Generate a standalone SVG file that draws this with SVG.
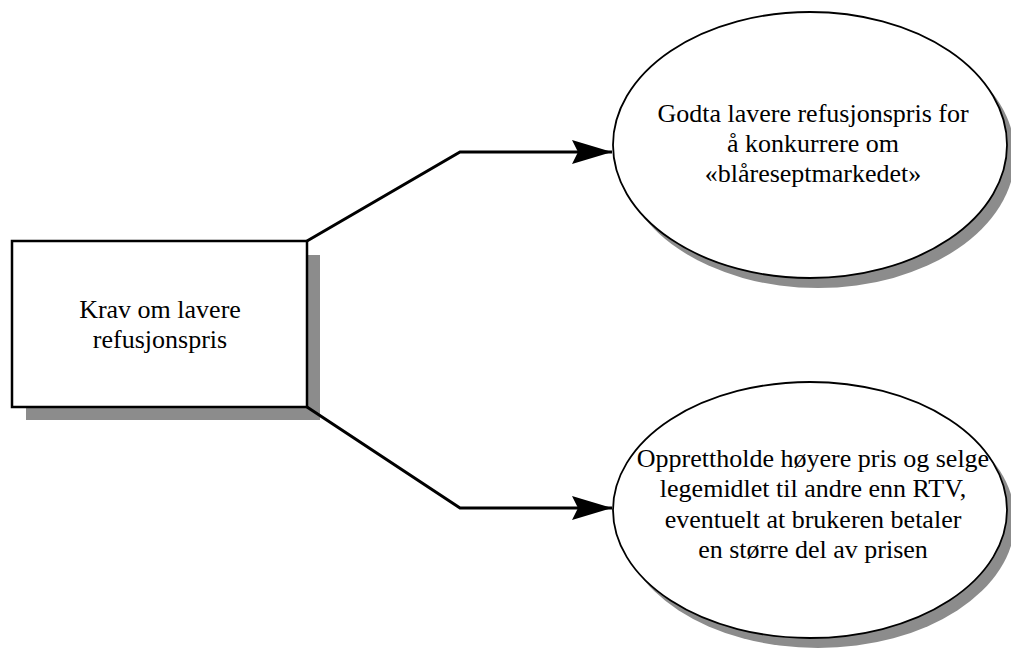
<svg xmlns="http://www.w3.org/2000/svg" width="1011" height="649" viewBox="0 0 1011 649">
  <style>
    .shadow { fill: #8c8c8c; stroke: none; }
    .shape { fill: #ffffff; stroke: #000000; }
    .label { font-family: "Liberation Serif", "Times New Roman", serif; font-size: 26px; fill: #000000; text-anchor: middle; }
    .link { fill: none; stroke: #000000; stroke-width: 3; stroke-linejoin: miter; }
  </style>
  <defs>
    <marker id="arrow" markerUnits="userSpaceOnUse" markerWidth="40" markerHeight="24" refX="40" refY="12" orient="auto">
      <path d="M0,0 L40,12 L0,24 L6,12 Z" fill="#000000"/>
    </marker>
  </defs>
  <rect x="0" y="0" width="1011" height="649" fill="#ffffff"/>

  <g id="node-krav">
    <rect class="shadow" x="26" y="255" width="294" height="165"/>
    <rect class="shape" x="12" y="241" width="295" height="166" stroke-width="2.5"/>
    <text class="label" x="160" y="318">Krav om lavere</text>
    <text class="label" x="160" y="348">refusjonspris</text>
  </g>

  <g id="node-godta">
    <ellipse class="shadow" cx="818" cy="155" rx="197" ry="133"/>
    <ellipse class="shape" cx="810" cy="145" rx="197" ry="133" stroke-width="1.8"/>
    <text class="label" x="813" y="122">Godta lavere refusjonspris for</text>
    <text class="label" x="813" y="152">å konkurrere om</text>
    <text class="label" x="813" y="182">«blåreseptmarkedet»</text>
  </g>

  <g id="node-opprettholde">
    <ellipse class="shadow" cx="818" cy="520" rx="197" ry="128"/>
    <ellipse class="shape" cx="810" cy="510" rx="197" ry="128" stroke-width="1.8"/>
    <text class="label" x="813" y="467">Opprettholde høyere pris og selge</text>
    <text class="label" x="813" y="497">legemidlet til andre enn RTV,</text>
    <text class="label" x="813" y="528">eventuelt at brukeren betaler</text>
    <text class="label" x="813" y="558">en større del av prisen</text>
  </g>

  <g id="connectors">
    <polyline class="link" points="307,241 460,152 612,152" marker-end="url(#arrow)"/>
    <polyline class="link" points="307,407 460,508 612,508" marker-end="url(#arrow)"/>
  </g>
</svg>
